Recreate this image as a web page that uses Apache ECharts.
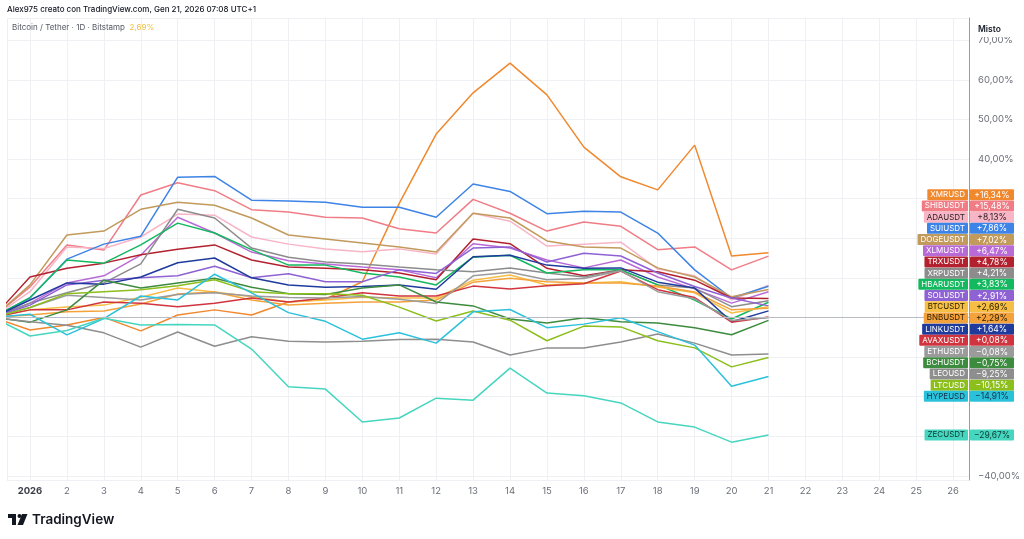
<!DOCTYPE html>
<html>
<head>
<meta charset="utf-8">
<script src="https://cdn.jsdelivr.net/npm/echarts@6/dist/echarts.min.js"></script>
<style>
html,body{margin:0;padding:0;background:#fff;}
#c{width:1024px;height:539px;}
</style>
</head>
<body>
<div id="c"></div>
<script>
// Day index: 0 = Dec 31 2025 (base), 1..21 = Jan 1..21 2026
const days = [0,1,2,3,4,5,6,7,8,9,10,11,12,13,14,15,16,17,18,19,20,21];

const XMRUSD  = [0,-3.2,-1.9,0,-3.4,0.6,1.9,0.6,3.9,4.6,9.0,28.8,46.3,56.7,64.2,56.2,43.0,35.5,32.2,43.5,15.5,16.34];
const SHIBUSDT= [0,7.7,18.3,17.0,30.9,34.0,32.0,27.2,26.6,25.3,25.1,22.4,21.3,29.8,26.3,21.8,24.1,23.0,17.1,17.8,12.0,15.48];
const ADAUSDT = [0,6.5,17.8,17.4,20.3,26.1,25.8,20.3,18.5,17.3,16.6,17.3,16.0,26.3,24.3,18.0,18.5,19.0,12.2,10.5,4.4,8.13];
const SUIUSDT = [0,4.9,14.7,18.5,20.5,35.4,35.6,29.6,29.4,29.1,27.8,27.8,25.3,33.7,31.8,26.2,26.8,26.6,21.3,12.0,4.9,7.86];
const DOGEUSDT= [0,8.2,20.8,21.8,27.3,29.1,28.3,25.1,20.8,19.8,18.8,17.8,16.5,26.3,25.1,19.3,17.8,17.5,12.5,10.2,5.2,7.02];
const XLMUSDT = [0,3.6,8.7,10.5,15.7,25.3,21.3,16.5,14.3,13.5,12.7,12.0,10.0,18.6,17.5,14.5,12.5,14.5,10.2,7.2,3.6,6.47];
const TRXUSDT = [0,10.2,12.4,13.7,15.8,17.2,18.3,14.5,12.7,12.4,12.0,11.2,9.5,19.8,18.6,12.4,10.5,12.0,11.5,9.4,4.9,4.78];
const XRPUSDT = [0,3.6,6.2,8.7,13.5,27.3,25.1,17.5,15.2,14.0,13.5,12.7,12.0,11.5,12.5,11.2,10.2,12.0,8.2,7.4,2.7,4.21];
const HBARUSDT= [0,5.0,14.5,13.7,18.3,23.8,21.3,17.1,13.2,13.2,11.2,10.2,8.2,15.2,15.7,11.2,12.0,12.0,8.2,4.4,-0.4,3.83];
const SOLUSDT = [0,3.1,8.2,9.4,10.0,10.5,12.9,10.0,11.0,9.0,9.0,12.0,11.1,17.5,17.8,14.0,16.2,15.5,11.2,7.8,4.9,2.91];
const BTCUSDT = [0,1.9,2.6,3.1,5.1,7.4,6.4,5.2,3.9,4.4,5.1,4.9,4.9,9.4,10.7,8.2,8.7,9.0,7.7,6.2,1.1,2.69];
const BNBUSDT = [0,0.6,1.4,1.6,3.4,5.9,6.4,4.4,3.1,3.6,3.9,3.9,4.4,8.9,9.9,9.0,8.7,8.7,7.9,6.4,1.9,2.29];
const LINKUSDT= [0,4.4,8.7,8.4,10.2,13.8,15.0,10.0,8.2,7.6,7.8,8.2,7.1,15.3,15.7,13.2,12.4,12.5,8.9,7.4,-1.1,1.64];
const AVAXUSDT= [0,1.9,1.9,3.9,3.6,2.7,3.6,4.9,3.9,4.9,6.2,5.4,5.4,7.9,7.2,8.0,8.5,11.7,7.0,5.0,-1.2,0.08];
const ETHUSDT = [0,2.5,5.6,5.0,4.4,5.8,6.2,5.4,5.0,4.9,5.3,4.6,3.5,10.5,11.4,9.5,9.8,11.8,6.5,4.7,-0.8,-0.08];
const BCHUSDT = [0,-1.2,1.9,9.4,7.4,8.7,9.9,7.6,6.0,5.8,7.4,8.2,3.9,2.9,-0.4,-1.4,-0.1,-1.1,-1.4,-2.6,-4.4,-0.75];
const LEOUSD  = [0,-1.1,-2.0,-3.9,-7.5,-3.7,-7.3,-4.9,-6.0,-6.2,-6.0,-5.6,-5.5,-6.2,-9.5,-7.7,-7.7,-6.2,-4.2,-6.5,-9.5,-9.25];
const LTCUSD  = [0,2.5,6.0,6.5,7.0,8.0,9.5,6.5,6.0,6.0,5.6,2.6,-0.9,1.6,-0.7,-5.9,-2.2,-2.4,-5.9,-7.7,-12.5,-10.15];
const HYPEUSD = [0,0.8,-4.4,-0.3,5.4,4.4,10.9,6.2,1.2,-1.0,-5.5,-3.9,-6.5,1.4,2.0,-2.6,-1.7,-0.1,-3.6,-7.0,-17.4,-14.91];
const ZECUSDT = [0,-4.7,-3.3,-0.2,-1.9,-1.8,-1.9,-8.0,-17.5,-18.1,-26.4,-25.4,-20.4,-20.9,-12.8,-19.1,-19.8,-21.6,-26.4,-27.7,-31.5,-29.67];

const xTickLabels = ['2026','2','3','4','5','6','7','8','9','10','11','12','13','14','15','16','17','18','19','20','21','22','23','24','25','26'];

const seriesDefs = [
  {name:'XMRUSD',  data:XMRUSD,  color:'#F0882E', text:'#ffffff'},
  {name:'SHIBUSDT',data:SHIBUSDT,color:'#F07D86', text:'#ffffff'},
  {name:'ADAUSDT', data:ADAUSDT, color:'#F7B5C6', text:'#2a1f22'},
  {name:'SUIUSDT', data:SUIUSDT, color:'#3D84E6', text:'#ffffff'},
  {name:'DOGEUSDT',data:DOGEUSDT,color:'#C29A5C', text:'#ffffff'},
  {name:'XLMUSDT', data:XLMUSDT, color:'#B86BD6', text:'#ffffff'},
  {name:'TRXUSDT', data:TRXUSDT, color:'#B3212F', text:'#ffffff'},
  {name:'XRPUSDT', data:XRPUSDT, color:'#8C8C8C', text:'#ffffff'},
  {name:'HBARUSDT',data:HBARUSDT,color:'#14B85E', text:'#ffffff'},
  {name:'SOLUSDT', data:SOLUSDT, color:'#8F62D4', text:'#ffffff'},
  {name:'BTCUSDT', data:BTCUSDT, color:'#F6BE45', text:'#2a2200', main:true},
  {name:'BNBUSDT', data:BNBUSDT, color:'#F4A23B', text:'#2a1a00'},
  {name:'LINKUSDT',data:LINKUSDT,color:'#1F3B9C', text:'#ffffff'},
  {name:'AVAXUSDT',data:AVAXUSDT,color:'#D0353F', text:'#ffffff'},
  {name:'ETHUSDT', data:ETHUSDT, color:'#9B9B9B', text:'#ffffff'},
  {name:'BCHUSDT', data:BCHUSDT, color:'#3D8B3F', text:'#ffffff'},
  {name:'LEOUSD',  data:LEOUSD,  color:'#8E8E8E', text:'#ffffff'},
  {name:'LTCUSD',  data:LTCUSD,  color:'#8CBE1C', text:'#ffffff'},
  {name:'HYPEUSD', data:HYPEUSD, color:'#2CC1DA', text:'#10324a'},
  {name:'ZECUSDT', data:ZECUSDT, color:'#46D6BF', text:'#0c3a32'}
];

const X_MIN = 0.377, X_MAX = 26.43;
const Y_MIN = -41.06, Y_MAX = 75.6;

function fmtPct(v){
  const s = Math.abs(v).toFixed(2).replace('.', ',') + '%';
  return (v < 0 ? '\u2212' : '+') + s;
}

const chart = echarts.init(document.getElementById('c'), null, {renderer:'canvas'});

const series = seriesDefs.map((s, i) => ({
  name: s.name,
  type: 'line',
  data: days.map((d, k) => [d, s.data[k]]),
  showSymbol: false,
  symbol: 'none',
  lineStyle: {width: 1.5, color: s.color},
  itemStyle: {color: s.color},
  z: 3,
  silent: true,
  animation: false,
  markLine: i === 0 ? {
    silent: true, symbol: 'none', animation: false,
    label: {show: false},
    lineStyle: {color: '#b9bcc4', width: 1, type: 'solid'},
    data: [{yAxis: 0}]
  } : undefined
}));

chart.setOption({
  animation: false,
  backgroundColor: '#ffffff',
  grid: {left: 7, right: 55, top: 18, bottom: 59, containLabel: false},
  xAxis: {
    type: 'value', min: X_MIN, max: X_MAX,
    splitNumber: 26, minInterval: 1, maxInterval: 1,
    axisLine: {show: true, lineStyle: {color: '#9a9ca4', width: 1}},
    axisTick: {show: false},
    splitLine: {show: true, lineStyle: {color: '#eef0f4', width: 1}},
    axisLabel: {
      margin: 6, fontSize: 9.5, fontFamily: 'Inter, Roboto, sans-serif',
      showMinLabel: false, showMaxLabel: false,
      color: '#6b6e78',
      formatter: function(v){
        if (Math.abs(v - Math.round(v)) > 1e-6) return '';
        const i = Math.round(v) - 1;
        if (i < 0 || i >= xTickLabels.length) return '';
        return i === 0 ? '{b|' + xTickLabels[i] + '}' : xTickLabels[i];
      },
      rich: {b: {fontWeight: 700, color: '#3a3d47', fontSize: 9.5, fontFamily: 'Inter, Roboto, sans-serif'}}
    }
  },
  yAxis: {
    type: 'value', position: 'right', min: Y_MIN, max: Y_MAX,
    splitNumber: 12, minInterval: 10, maxInterval: 10,
    axisLine: {show: true, lineStyle: {color: '#9a9ca4', width: 1}},
    axisTick: {show: false},
    splitLine: {show: true, lineStyle: {color: '#eef0f4', width: 1}},
    axisLabel: {
      margin: 9, fontSize: 9.5, color: '#6b6e78', fontFamily: 'Inter, Roboto, sans-serif',
      showMinLabel: false, showMaxLabel: false,
      formatter: function(v){
        const r = Math.round(v);
        if (Math.abs(v - r) > 1e-6 || r % 10 !== 0) return '';
        if (Math.abs(r) < 35) return '';
        return (r < 0 ? '\u2212' : '') + Math.abs(r).toFixed(2).replace('.', ',') + '%';
      }
    }
  },
  series: series
});

// ---- Right-side value tags (TradingView style), positioned from the y scale ----
function buildTags(){
  const xRight = chart.convertToPixel({xAxisIndex: 0}, X_MAX);
  const H = 11.2;
  const items = seriesDefs.map(s => {
    const v = s.data[s.data.length - 1];
    return {s: s, v: v, y: chart.convertToPixel({yAxisIndex: 0}, v)};
  }).sort((a, b) => b.v - a.v);
  const mi = items.findIndex(it => it.s.main);
  items[mi].ty = items[mi].y;
  for (let i = mi - 1; i >= 0; i--) items[i].ty = Math.min(items[i].y, items[i + 1].ty - H);
  for (let i = mi + 1; i < items.length; i++) items[i].ty = Math.max(items[i].y, items[i - 1].ty + H);

  const els = [];
  const font = 'Inter, Roboto, sans-serif';
  items.forEach(it => {
    const c = it.s.color, tc = it.s.text;
    els.push({
      type: 'text', z: 100, silent: true,
      x: xRight - 1, y: it.ty,
      style: {
        text: it.s.name, fill: tc, font: '8px ' + font,
        align: 'right', verticalAlign: 'middle',
        backgroundColor: c, padding: [1.5, 3, 1, 3], lineHeight: 8.5,
        borderRadius: 1
      }
    });
    els.push({
      type: 'rect', z: 100, silent: true,
      shape: {x: xRight + 1, y: it.ty - 5.5, width: 44, height: 11, r: 1},
      style: {fill: c}
    });
    els.push({
      type: 'text', z: 101, silent: true,
      x: xRight + 23, y: it.ty + 0.5,
      style: {text: fmtPct(it.v), fill: tc, font: '8.5px ' + font, align: 'center', verticalAlign: 'middle'}
    });
  });

  // Header texts
  els.push({
    type: 'text', z: 100, silent: true, x: 7, y: 10,
    style: {text: 'Alex975 creato con TradingView.com, Gen 21, 2026 07:08 UTC+1',
      fill: '#131722', font: '500 8px ' + font, verticalAlign: 'middle'}
  });
  els.push({
    type: 'text', z: 100, silent: true, x: 12, y: 28,
    style: {
      text: '{a|Bitcoin / Tether · 1D · Bitstamp}{g|  }{b|2,69%}',
      verticalAlign: 'middle',
      rich: {
        a: {fill: '#555862', font: '8px ' + font},
        g: {font: '8px ' + font},
        b: {fill: '#F2C03E', font: '8px ' + font}
      }
    }
  });
  els.push({
    type: 'rect', z: 99, silent: true,
    shape: {x: xRight + 1, y: 18, width: 50, height: 19},
    style: {fill: '#ffffff'}
  });
  els.push({
    type: 'text', z: 100, silent: true, x: xRight + 9, y: 29,
    style: {text: 'Misto', fill: '#131722', font: '600 8.5px ' + font, verticalAlign: 'middle'}
  });
  // TradingView logo
  els.push({type: 'rect', z: 100, silent: true, shape: {x: 8, y: 514, width: 8, height: 4}, style: {fill: '#131722'}});
  els.push({type: 'rect', z: 100, silent: true, shape: {x: 12, y: 514, width: 4, height: 11}, style: {fill: '#131722'}});
  els.push({type: 'circle', z: 100, silent: true, shape: {cx: 19.5, cy: 516, r: 2}, style: {fill: '#131722'}});
  els.push({type: 'polygon', z: 100, silent: true, shape: {points: [[22, 514], [27.5, 514], [23, 525], [17.5, 525]]}, style: {fill: '#131722'}});
  els.push({
    type: 'text', z: 100, silent: true, x: 32, y: 519.5,
    style: {text: 'TradingView', fill: '#131722', font: '600 13.5px ' + font, verticalAlign: 'middle'}
  });
  chart.setOption({graphic: {elements: els}});
}
buildTags();
</script>
</body>
</html>
